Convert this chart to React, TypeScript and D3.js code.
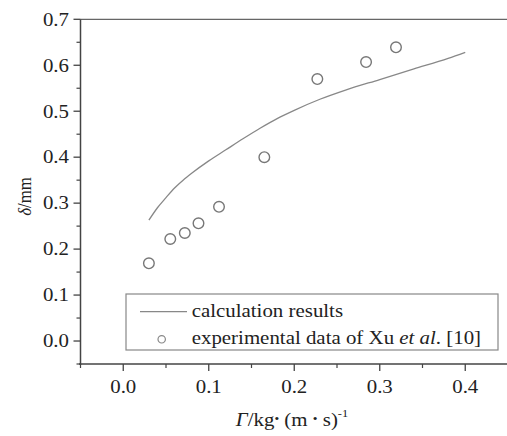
import React from "react";
import * as d3 from "d3";

const calcX = [0.03, 0.04, 0.05, 0.06, 0.07, 0.08, 0.1, 0.12, 0.14, 0.16, 0.18, 0.2, 0.23, 0.26, 0.3, 0.34, 0.38, 0.4];
const calcY = [0.263, 0.29, 0.312, 0.333, 0.35, 0.365, 0.392, 0.416, 0.44, 0.463, 0.484, 0.502, 0.526, 0.546, 0.569, 0.592, 0.615, 0.628];
const expX = [0.03, 0.055, 0.072, 0.088, 0.112, 0.165, 0.227, 0.284, 0.319];
const expY = [0.169, 0.222, 0.235, 0.256, 0.292, 0.4, 0.57, 0.607, 0.639];
const xTicks = [0.0, 0.1, 0.2, 0.3, 0.4];
const yTicks = [0.0, 0.1, 0.2, 0.3, 0.4, 0.5, 0.6, 0.7];
const xMinor = [-0.05, 0.05, 0.15, 0.25, 0.35, 0.45];
const yMinor = [-0.05, 0.05, 0.15, 0.25, 0.35, 0.45, 0.55, 0.65];

const FONT = "'Liberation Serif', 'Times New Roman', serif";
const SX = 1.13;
const TXT = "#222";

export default function App() {
  const x = d3.scaleLinear().domain([-0.05, 0.45]).range([80.5, 508]);
  const y = d3.scaleLinear().domain([-0.05, 0.7]).range([364, 19.3]);
  const line = d3
    .line<number>()
    .x((_, i) => x(calcX[i]))
    .y((d) => y(d))
    .curve(d3.curveMonotoneX);
  const x0 = x(-0.05);
  const yb = y(-0.05);
  const yt = y(0.7);
  const fs = 18.5;
  return (
    <svg width={507} height={436} style={{ position: "absolute", left: 0, top: 0, background: "#fff" }} fontFamily={FONT}>
      <rect width={507} height={436} fill="#fff" />
      {/* top frame line */}
      <line x1={x0} x2={507} y1={yt} y2={yt} stroke="#666" strokeWidth={1.3} />
      {/* axes */}
      <line x1={x0} x2={x0} y1={yt} y2={yb + 1} stroke="#444" strokeWidth={1.5} />
      <line x1={x0 - 1.5} x2={507} y1={yb} y2={yb} stroke="#444" strokeWidth={1.5} />
      {yTicks.map((t) => (
        <g key={"yt" + t}>
          <line x1={x0 - 7} x2={x0} y1={y(t)} y2={y(t)} stroke="#444" strokeWidth={1.3} />
          <text
            transform={`translate(69,${y(t) + 6.3}) scale(${SX},1)`}
            textAnchor="end"
            fontSize={fs}
            fill={TXT}
          >
            {t.toFixed(1)}
          </text>
        </g>
      ))}
      {yMinor.map((t) => (
        <line key={"ym" + t} x1={x0 - 4} x2={x0} y1={y(t)} y2={y(t)} stroke="#444" strokeWidth={1.2} />
      ))}
      {xTicks.map((t) => (
        <g key={"xt" + t}>
          <line x1={x(t)} x2={x(t)} y1={yb} y2={yb + 7} stroke="#444" strokeWidth={1.3} />
          <text
            transform={`translate(${x(t)},392.5) scale(${SX},1)`}
            textAnchor="middle"
            fontSize={fs}
            fill={TXT}
          >
            {t.toFixed(1)}
          </text>
        </g>
      ))}
      {xMinor.map((t) => (
        <line key={"xm" + t} x1={x(t)} x2={x(t)} y1={yb} y2={yb + 4} stroke="#444" strokeWidth={1.2} />
      ))}
      {/* calc line */}
      <path d={line(calcY) || ""} fill="none" stroke="#888" strokeWidth={1.3} />
      {/* experimental points */}
      {expY.map((v, i) => (
        <circle key={"e" + i} cx={x(expX[i])} cy={y(v)} r={5.3} fill="none" stroke="#777" strokeWidth={1.4} />
      ))}
      {/* legend */}
      <rect x={126} y={294} width={372} height={56} fill="#fff" stroke="#888" strokeWidth={1.2} />
      <line x1={140} x2={187} y1={311.7} y2={311.7} stroke="#888" strokeWidth={1.3} />
      <circle cx={161.7} cy={339.3} r={3.7} fill="none" stroke="#888" strokeWidth={1.2} />
      <text transform={`translate(191.7,317.3) scale(${SX},1)`} fontSize={fs} fill={TXT}>
        calculation results
      </text>
      <text transform={`translate(191.7,343.8) scale(${SX},1)`} fontSize={fs} fill={TXT}>
        experimental data of Xu <tspan fontStyle="italic">et al</tspan>. [10]
      </text>
      {/* y label */}
      <text
        transform={`translate(31,196.5) rotate(-90) scale(1.05,1.13)`}
        textAnchor="middle"
        fontSize={16}
        fill={TXT}
      >
        <tspan fontStyle="italic">δ</tspan>/mm
      </text>
      {/* x label */}
      <text transform={`translate(292,426) scale(${SX},1)`} textAnchor="middle" fontSize={fs} fill={TXT}>
        <tspan fontStyle="italic">Γ</tspan>/kg<tspan fontSize={12} dy={-3}>•</tspan>
        <tspan dy={3}> (m </tspan>
        <tspan fontSize={12} dy={-3}>•</tspan>
        <tspan dy={3}> s)</tspan>
        <tspan fontSize={11} dy={-9}>-1</tspan>
      </text>
    </svg>
  );
}
